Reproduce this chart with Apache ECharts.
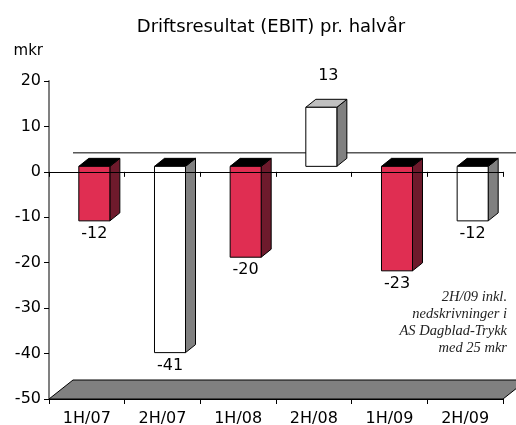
<!DOCTYPE html>
<html>
<head>
<meta charset="utf-8">
<script src="https://cdn.jsdelivr.net/npm/echarts@6/dist/echarts.min.js"></script>
<style>
  html, body { margin: 0; padding: 0; background: #fff; }
  #chart { width: 516px; height: 425px; }
</style>
</head>
<body>
<div id="chart"></div>
<script>
// data
const categories = ["1H/07", "2H/07", "1H/08", "2H/08", "1H/09", "2H/09"];
const ebit = [-12, -41, -20, 13, -23, -12];
const yTicks = { min: -50, max: 20, step: 10 };
const noteLines = ["2H/09 inkl.", "nedskrivninger i", "AS Dagblad-Trykk", "med 25 mkr"];

const FONT = "DejaVu Sans";
// 3D look: front face shifted a bit into the depth, then the bar depth itself
const FRONT_DX = 7.5, FRONT_DY = -5.5;
const DEPTH_DX = 10, DEPTH_DY = -8;
const WALL_DX = 24, WALL_DY = -19;

function barColors(i, v) {
  const red = i % 2 === 0;
  return {
    front: red ? "#E02E52" : "#FFFFFF",
    side: red ? "#6E1A2C" : "#808080",
    top: v < 0 ? "#000000" : "#C0C0C0"
  };
}

function renderBar(params, api) {
  const i = api.value(0);
  const v = api.value(1);
  const pz = api.coord([i, 0]);
  const pv = api.coord([i, v]);
  const band = api.size([1, 0])[0];
  const w = band * 0.41;
  const x0 = pz[0] - w / 2 + FRONT_DX;
  const x1 = x0 + w;
  const yTop = Math.min(pz[1], pv[1]) + FRONT_DY;
  const yBot = Math.max(pz[1], pv[1]) + FRONT_DY;
  const c = barColors(i, v);
  const stroke = { stroke: "#000", lineWidth: 1 };
  const children = [
    {
      type: "polygon",
      shape: { points: [[x1, yTop], [x1 + DEPTH_DX, yTop + DEPTH_DY], [x1 + DEPTH_DX, yBot + DEPTH_DY], [x1, yBot]] },
      style: Object.assign({ fill: c.side }, stroke)
    },
    {
      type: "polygon",
      shape: { points: [[x0, yTop], [x0 + DEPTH_DX, yTop + DEPTH_DY], [x1 + DEPTH_DX, yTop + DEPTH_DY], [x1, yTop]] },
      style: Object.assign({ fill: c.top }, stroke)
    },
    {
      type: "rect",
      shape: { x: x0, y: yTop, width: w, height: yBot - yTop },
      style: Object.assign({ fill: c.front }, stroke)
    }
  ];
  const cx = x0 + w / 2;
  if (v < 0) {
    children.push({
      type: "text",
      style: { text: String(v), x: cx, y: yBot + 5, align: "center", verticalAlign: "top",
        font: "16px '" + FONT + "'", fill: "#000" }
    });
  } else {
    children.push({
      type: "text",
      style: { text: String(v), x: cx + 7, y: yTop + DEPTH_DY - 23, align: "center", verticalAlign: "middle",
        font: "16px '" + FONT + "'", fill: "#000" }
    });
  }
  return { type: "group", children: children };
}

// floor and back-wall zero line, placed from the grid's own coordinates
function renderWalls(params, api) {
  const cs = params.coordSys;
  const yFloor = api.coord([0, yTicks.min])[1];
  const yZero = api.coord([0, 0])[1];
  const xl = cs.x, xr = cs.x + cs.width;
  return {
    type: "group",
    children: [
      {
        type: "polygon",
        shape: { points: [[xl, yFloor], [xl + WALL_DX, yFloor + WALL_DY], [xr + WALL_DX, yFloor + WALL_DY], [xr, yFloor]] },
        style: { fill: "#808080", stroke: "#000", lineWidth: 1 }
      },
      {
        type: "line",
        shape: { x1: xl + WALL_DX, y1: yZero + WALL_DY, x2: xr + WALL_DX + 20, y2: yZero + WALL_DY },
        style: { stroke: "#000", lineWidth: 1 }
      }
    ]
  };
}

// note text, one right-aligned line each
const noteGraphics = noteLines.map((t, k) => ({
  type: "text",
  x: 507,
  y: 297 + k * 17,
  z: 10,
  style: {
    text: t,
    align: "right",
    verticalAlign: "middle",
    font: "italic 14.5px 'Liberation Serif'",
    fill: "#222"
  }
}));

const option = {
  animation: false,
  backgroundColor: "#fff",
  textStyle: { fontFamily: FONT },
  title: {
    text: "Driftsresultat (EBIT) pr. halvår",
    left: 266, top: 13,
    textAlign: "center",
    textStyle: { fontFamily: FONT, fontSize: 18, fontWeight: "normal", color: "#000" }
  },
  grid: { left: 49, right: 13, top: 81, bottom: 26, containLabel: false, outerBoundsMode: "none" },
  xAxis: [
    {
      type: "category",
      data: categories,
      z: 5,
      axisLine: { onZero: true, lineStyle: { color: "#000", width: 1 } },
      axisTick: { show: true, length: 5, lineStyle: { color: "#000" } },
      axisLabel: { show: false },
      splitLine: { show: false }
    },
    {
      type: "category",
      data: categories,
      position: "bottom",
      z: 5,
      axisLine: { onZero: false, lineStyle: { color: "#000", width: 1 } },
      axisTick: { show: true, length: 5, lineStyle: { color: "#000" } },
      axisLabel: { show: true, margin: 12, fontFamily: FONT, fontSize: 16, color: "#000" },
      splitLine: { show: false }
    }
  ],
  yAxis: {
    type: "value",
    min: yTicks.min,
    max: yTicks.max,
    interval: yTicks.step,
    name: "mkr",
    nameLocation: "end",
    nameGap: 22,
    nameTextStyle: { fontFamily: FONT, fontSize: 15, color: "#000", align: "right", padding: [0, 6, 0, 0] },
    axisLine: { show: true, lineStyle: { color: "#808080", width: 2 } },
    axisTick: { show: true, length: 5, lineStyle: { color: "#000" } },
    axisLabel: { margin: 8, fontFamily: FONT, fontSize: 16, color: "#000" },
    splitLine: { show: false }
  },
  graphic: noteGraphics,
  series: [
    {
      type: "custom",
      xAxisIndex: 0,
      z: 1,
      renderItem: renderWalls,
      data: [[0, 0]],
      silent: true
    },
    {
      type: "custom",
      xAxisIndex: 0,
      z: 3,
      renderItem: renderBar,
      data: ebit.map((v, i) => [i, v])
    }
  ]
};

const chartObj = echarts.init(document.getElementById("chart"));
chartObj.setOption(option);
window.onresize = chartObj.resize;
</script>
</body>
</html>
